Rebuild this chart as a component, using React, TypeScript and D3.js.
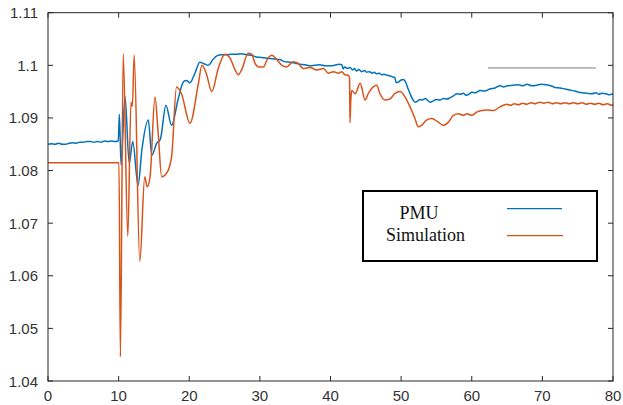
import React from "react";
import * as d3 from "d3";

const xTicks = [0, 10, 20, 30, 40, 50, 60, 70, 80];
const yTicks = [1.04, 1.05, 1.06, 1.07, 1.08, 1.09, 1.1, 1.11];
const yTickLabels = ["1.04", "1.05", "1.06", "1.07", "1.08", "1.09", "1.1", "1.11"];
const seriesNames = ["PMU", "Simulation"];

const pmu: [number, number][] = [
  [0, 1.085], [0.5, 1.0851], [1, 1.085], [1.5, 1.0852], [2, 1.085], [2.5, 1.085], [3, 1.0852], [3.5, 1.0853],
  [4, 1.0852], [4.5, 1.0854], [5, 1.0854], [5.5, 1.0855], [6, 1.0855], [6.5, 1.0854], [7, 1.0855], [7.5, 1.0854],
  [8, 1.0856], [8.5, 1.0855], [9, 1.0856], [9.5, 1.0855], [9.95, 1.0856],
  [10.1, 1.0907], [10.35, 1.081], [10.9, 1.0941], [11.5, 1.0814], [12.0, 1.0855], [12.75, 1.0772], [13.3, 1.084],
  [14.2, 1.0896], [14.7, 1.0829], [15.4, 1.0852], [15.9, 1.0859], [16.7, 1.0924], [17.5, 1.0886], [18.45, 1.0937],
  [19.2, 1.0969], [19.6, 1.0971], [20.1, 1.0967], [20.8, 1.0985], [21.5, 1.1006], [22.1, 1.1003], [22.7, 1.1],
  [23.3, 1.101], [23.9, 1.1018], [24.6, 1.102], [25.3, 1.102], [26.0, 1.1021], [26.7, 1.1021], [27.4, 1.1022],
  [28.1, 1.102], [28.8, 1.1019], [29.5, 1.1016], [30.2, 1.1015], [31.4, 1.1013], [32.1, 1.1012], [32.8, 1.1011],
  [33.5, 1.1007], [34.3, 1.1006], [35.0, 1.1004], [35.7, 1.1002], [36.4, 1.1001], [37.1, 1.0999], [37.8, 1.1],
  [38.5, 1.1001], [39.2, 1.0999], [39.9, 1.0999], [40.6, 1.1], [41.2, 1.1002], [41.6, 1.1001], [41.8, 1.0993],
  [42.0, 1.0997], [42.4, 1.0994], [42.8, 1.0996], [43.1, 1.0991], [43.4, 1.0994], [43.7, 1.0989], [44.0, 1.0992],
  [44.4, 1.0988], [44.8, 1.099], [45.1, 1.0987], [45.5, 1.0988], [45.9, 1.0985], [46.2, 1.0987], [46.5, 1.0984],
  [46.9, 1.0985], [47.3, 1.0982], [47.6, 1.0983], [48.0, 1.0981], [48.4, 1.098], [48.8, 1.0978], [49.1, 1.0977],
  [49.3, 1.0967], [49.6, 1.0968], [50.0, 1.0972], [50.3, 1.0973], [50.6, 1.0969], [51.0, 1.0955], [51.3, 1.0945],
  [51.6, 1.0936], [52.0, 1.093], [52.3, 1.0932], [52.7, 1.0935], [53.0, 1.0934], [53.4, 1.0937], [53.8, 1.0933],
  [54.1, 1.093], [54.5, 1.0932], [55.0, 1.0935], [55.5, 1.0934], [56.0, 1.0937], [56.5, 1.0936], [56.9, 1.0938],
  [57.4, 1.0942], [57.9, 1.0946], [58.4, 1.0945], [58.8, 1.0947], [59.2, 1.0943], [59.6, 1.0945], [60.0, 1.0949],
  [60.5, 1.0948], [61.2, 1.0952], [61.8, 1.0951], [62.6, 1.0955], [63.3, 1.0957], [64.0, 1.0961], [64.5, 1.0959],
  [65.0, 1.0961], [65.8, 1.0962], [66.6, 1.0963], [67.2, 1.0961], [67.8, 1.0964], [68.5, 1.0961], [69.2, 1.0962],
  [69.8, 1.0964], [70.6, 1.0963], [71.2, 1.0961], [71.8, 1.0958], [72.5, 1.0957], [73.2, 1.0955], [73.9, 1.0953],
  [74.6, 1.0951], [75.1, 1.0949], [75.6, 1.0948], [76.3, 1.0947], [77.0, 1.0946], [77.6, 1.0948], [78.0, 1.0945],
  [78.4, 1.0947], [79.0, 1.0946], [79.5, 1.0944], [80, 1.0946],
];

const simulation: [number, number][] = [
  [0, 1.0815], [10.05, 1.0815], [10.25, 1.0446], [10.65, 1.1022], [11.3, 1.0675], [11.75, 1.093], [11.95, 1.0922],
  [12.2, 1.1019], [13.0, 1.0627], [13.7, 1.0788], [14.05, 1.0769], [14.45, 1.0788], [15.15, 1.094], [15.6, 1.0871],
  [16.1, 1.0788], [16.8, 1.0795], [17.5, 1.0826], [18.2, 1.0959], [18.9, 1.0946], [20.1, 1.089], [21.3, 1.0966],
  [21.8, 1.1], [22.4, 1.0985], [23.2, 1.095], [24.1, 1.0994], [25.06, 1.1021], [25.8, 1.1013], [26.5, 1.0991],
  [26.95, 1.0982], [27.4, 1.0991], [28.35, 1.1023], [28.85, 1.1021], [29.3, 1.1004], [29.8, 1.0997], [30.5, 1.0997],
  [31.0, 1.101], [31.7, 1.1019], [32.4, 1.1011], [33.1, 1.1], [33.8, 1.0997], [34.7, 1.1007], [35.4, 1.1004],
  [36.15, 1.0994], [37.1, 1.0996], [38.05, 1.0991], [39.0, 1.0994], [39.7, 1.0985], [40.4, 1.0988], [41.1, 1.0985],
  [41.6, 1.0988], [42.05, 1.0982], [42.5, 1.0981], [42.7, 1.0975], [42.76, 1.0891], [42.88, 1.0935], [43.0, 1.0952],
  [43.5, 1.0946], [44.2, 1.0966], [44.9, 1.0934], [45.3, 1.0945], [46.06, 1.0959], [46.54, 1.0962], [47.0, 1.0946],
  [47.7, 1.0934], [48.4, 1.0936], [49.1, 1.0946], [49.85, 1.095], [50.55, 1.094], [51.26, 1.0921], [51.96, 1.0899],
  [52.43, 1.0883], [52.9, 1.0886], [53.6, 1.0896], [54.3, 1.0899], [55.26, 1.0892], [55.97, 1.0886], [56.7, 1.0892],
  [57.4, 1.0905], [58.1, 1.0908], [58.8, 1.0905], [59.3, 1.0908], [60.0, 1.0905], [60.7, 1.0911], [61.4, 1.0914],
  [62.1, 1.0915], [63.05, 1.0914], [64.0, 1.0921], [64.95, 1.0926], [65.5, 1.0924], [66.0, 1.0927], [66.6, 1.0925],
  [67.2, 1.0928], [67.8, 1.0926], [68.4, 1.0929], [69.0, 1.0927], [69.6, 1.093], [70.2, 1.0928], [70.8, 1.093],
  [71.4, 1.0927], [72.0, 1.0929], [72.6, 1.0927], [73.2, 1.0929], [73.8, 1.0927], [74.4, 1.0929], [75.0, 1.0927],
  [75.6, 1.0929], [76.2, 1.0926], [76.8, 1.0928], [77.4, 1.0926], [78.0, 1.0928], [78.6, 1.0925], [79.2, 1.0927],
  [79.8, 1.0924], [80, 1.0925],
];

// unexplained grey stroke in the upper right of the reference
const strayLine: [number, number][] = [[62.3, 1.0995], [77.6, 1.0995]];

const W = 623;
const H = 405;
const L = 48, R = 613, T = 12.7, B = 381;
const BLUE = "#0072BD";
const ORANGE = "#D95319";
const AX = "#262626";

export default function App() {
  const x = d3.scaleLinear().domain([0, 80]).range([L, R]);
  const y = d3.scaleLinear().domain([1.04, 1.11]).range([B, T]);
  const line = d3
    .line<[number, number]>()
    .x((d) => x(d[0]))
    .y((d) => y(d[1]))
    .curve(d3.curveMonotoneX);
  const straight = d3
    .line<[number, number]>()
    .x((d) => x(d[0]))
    .y((d) => y(d[1]));
  const tl = 5;
  return (
    <svg
      width={W}
      height={H}
      style={{ position: "absolute", left: 0, top: 0, background: "#fff" }}
      fontFamily="'Liberation Sans', Arial, Helvetica, sans-serif"
    >
      <rect x={0} y={0} width={W} height={H} fill="#fff" />
      <path d={line(pmu) ?? ""} fill="none" stroke={BLUE} strokeWidth={1.5} strokeLinejoin="round" />
      <path d={line(simulation) ?? ""} fill="none" stroke={ORANGE} strokeWidth={1.5} strokeLinejoin="round" />
      <path d={straight(strayLine) ?? ""} fill="none" stroke="#6e6e6e" strokeWidth={0.9} />
      <rect x={L} y={T} width={R - L} height={B - T} fill="none" stroke={AX} strokeWidth={1} />
      {xTicks.map((t) => (
        <g key={"x" + t}>
          <line x1={x(t)} x2={x(t)} y1={B} y2={B - tl} stroke={AX} />
          <line x1={x(t)} x2={x(t)} y1={T} y2={T + tl} stroke={AX} />
          <text x={x(t)} y={401} textAnchor="middle" fontSize={15} fill="#333">
            {t}
          </text>
        </g>
      ))}
      {yTicks.map((v, i) => (
        <g key={"y" + v}>
          <line x1={L} x2={L + tl} y1={y(v)} y2={y(v)} stroke={AX} />
          <line x1={R} x2={R - tl} y1={y(v)} y2={y(v)} stroke={AX} />
          <text x={38} y={y(v) + 5.5} textAnchor="end" fontSize={15} fill="#333">
            {yTickLabels[i]}
          </text>
        </g>
      ))}
      <g>
        <rect x={363} y={191} width={234} height={70} fill="#fff" stroke="#000" strokeWidth={2} />
        <text x={419} y={219} textAnchor="middle" fontSize={18} fontFamily="'Liberation Serif', 'Times New Roman', serif" fill="#111">
          {seriesNames[0]}
        </text>
        <text x={425.5} y={241} textAnchor="middle" fontSize={18} fontFamily="'Liberation Serif', 'Times New Roman', serif" fill="#111">
          {seriesNames[1]}
        </text>
        <line x1={507} x2={562} y1={208.7} y2={208.7} stroke={BLUE} strokeWidth={1.3} />
        <line x1={507} x2={563} y1={235.7} y2={235.7} stroke={ORANGE} strokeWidth={1.3} />
      </g>
    </svg>
  );
}
